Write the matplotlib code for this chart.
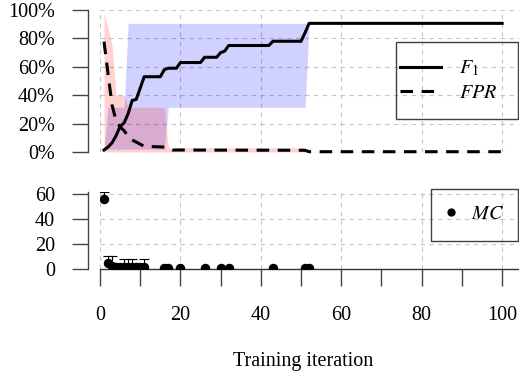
import numpy as np
import matplotlib
matplotlib.use('Agg')
import matplotlib.pyplot as plt
from matplotlib.patches import Rectangle

# ---------------- data ----------------
f1_it = [1, 2, 3, 4, 5, 6, 7, 8, 9, 10, 11, 15, 16, 17, 19, 20, 25, 26, 29, 30, 31, 32, 42, 43, 50, 51, 52, 100]
f1 = [1.4, 3.5, 6.5, 11.5, 18, 20.5, 27, 36.3, 37, 45, 53, 53, 58, 59, 59, 63, 63, 66.7, 66.7, 70, 71, 75, 75, 78, 78, 84, 90.6, 90.6]

fpr_it = [1, 2, 3, 4, 5, 6, 7, 8, 9, 10, 11, 16, 17, 18, 51, 52, 100]
fpr = [77.7, 55, 33, 22, 17.6, 15, 11, 8.5, 7, 5.5, 4, 3.5, 2.5, 1.4, 1.2, 0.2, 0.2]

blue_it = [1, 2, 6, 7, 16, 17, 51, 52, 100]
blue_low = [1.4, 2, 2, 2, 2, 31.5, 31.5, 90.6, 90.6]
blue_high = [1.4, 31.5, 31.5, 90.6, 90.6, 90.6, 90.6, 90.6, 90.6]

red_it = [1, 2, 3, 4, 6, 7, 16, 17, 51, 52, 100]
red_low = [0, 0, 0, 0, 0, 0, 0, 0, 0, 0, 0]
red_high = [97.7, 87, 75, 40, 40, 31.5, 31.5, 3, 3, 0.2, 0.2]

mc_it = [1, 2, 3, 4, 5, 6, 7, 8, 9, 10, 11, 16, 17, 20, 26, 30, 32, 43, 51, 52]
mc = [56, 4.5, 2.5, 1.5, 1.5, 1.5, 1.5, 1.5, 1.5, 1.5, 1.5, 0.5, 0.5, 0.5, 0.5, 0.5, 0.5, 0.5, 0.5, 0.5]
mc_err_it = [1, 2, 3, 6, 7, 8, 11]
mc_err_val = [56, 4.5, 2.5, 1.5, 1.5, 1.5, 1.5]
mc_err_up = [5.4, 5.7, 7.7, 6.5, 6.5, 6.5, 6.5]

top_ticks = [0, 20, 40, 60, 80, 100]
top_labels = ['0%', '20%', '40%', '60%', '80%', '100%']
bot_yticks = [0, 20, 40, 60]
x_major = [0, 20, 40, 60, 80, 100]
x_minor = [10, 30, 50, 70, 90]

# ---------------- style ----------------
plt.rcParams['font.family'] = ['Liberation Serif', 'DejaVu Serif']
plt.rcParams['mathtext.fontset'] = 'stix'
FS = 14.5
SPINE = '#444444'
GRID = '#c4c4c4'

W, H = 519, 377
fig = plt.figure(figsize=(W / 100, H / 100), dpi=100)

def fx(px):
    return px / W

def fy(py):
    return 1 - py / H

ax1 = fig.add_axes([fx(100), fy(152), (519 - 100) / W, (152 - 10) / H])
ax2 = fig.add_axes([fx(100), fy(268.7), (519 - 100) / W, (268.7 - 192.1) / H])

for ax in (ax1, ax2):
    ax.set_xlim(0, 104.2)
    ax.spines['top'].set_visible(False)
    ax.spines['right'].set_visible(False)
    ax.spines['left'].set_position(('outward', 8.6))
    ax.spines['left'].set_color(SPINE)
    ax.spines['left'].set_linewidth(1.0)
    ax.set_xticks(x_major)
    ax.grid(True, color=GRID, lw=0.8, linestyle=(0, (4, 4)))
    ax.set_axisbelow(True)
    ax.tick_params(axis='y', length=11.2, width=1.0, color=SPINE, pad=12.7, labelsize=FS)

# ---- top panel ----
ax1.fill_between(blue_it, blue_low, blue_high, color='blue', alpha=0.18, lw=0)
ax1.fill_between(red_it, red_low, red_high, color='red', alpha=0.18, lw=0)
ax1.plot(f1_it, f1, color='black', lw=2.2, label='$F_1$', clip_on=False, zorder=3)
ax1.plot(fpr_it, fpr, color='black', lw=2.2, dashes=(4.1, 2.8), label='$FPR$', clip_on=False, zorder=3)
ax1.set_ylim(0, 100)
ax1.set_yticks(top_ticks)
ax1.set_yticklabels(top_labels)
ax1.spines['bottom'].set_visible(False)
ax1.tick_params(axis='x', bottom=False, labelbottom=False)

leg1 = ax1.legend(loc='center left', bbox_to_anchor=(fx(400), fy(80.8)), bbox_transform=fig.transFigure,
                  frameon=False, borderpad=0, borderaxespad=0, handlelength=2.04, handletextpad=0.9,
                  labelspacing=0.25, fontsize=FS)
fig.add_artist(Rectangle((fx(396), fy(119.3)), (518 - 396) / W, (119.3 - 42.3) / H,
                         transform=fig.transFigure, fill=False, ec='#404040', lw=1.0))

# ---- bottom panel ----
mc_top = [v + e for v, e in zip(mc_err_val, mc_err_up)]
ax2.vlines(mc_err_it, mc_err_val, mc_top, color='black', lw=0.8, zorder=3)
ax2.plot(mc_err_it, mc_top, linestyle='none', marker='_', ms=7.2, mew=0.8, color='black', zorder=3)
ax2.plot(mc_it, mc, linestyle='none', marker='o', ms=5.8, color='black', label='$MC$', zorder=4)
ax2.set_ylim(0, 61.5)
ax2.set_yticks(bot_yticks)
ax2.spines['bottom'].set_color('#333333')
ax2.spines['bottom'].set_linewidth(1.0)
ax2.set_xticks(x_minor, minor=True)
ax2.tick_params(axis='x', which='both', length=12.5, width=1.0, color=SPINE, pad=14, labelsize=FS)

leg2 = ax2.legend(loc='center left', bbox_to_anchor=(fx(440.6), fy(214.3)), bbox_transform=fig.transFigure,
                  frameon=False, borderpad=0, borderaxespad=0, handlelength=1.0, handletextpad=0.53,
                  numpoints=1, markerscale=0.85, fontsize=FS)
fig.add_artist(Rectangle((fx(431), fy(241)), (518 - 431) / W, (241 - 189.3) / H,
                         transform=fig.transFigure, fill=False, ec='#404040', lw=1.0))

fig.text(fx(303), fy(361.7), 'Training iteration', ha='center', va='center', fontsize=FS)

fig.savefig('out.png', dpi=100)
